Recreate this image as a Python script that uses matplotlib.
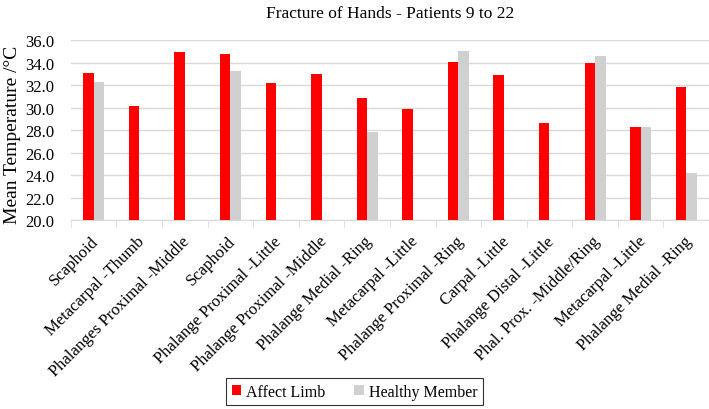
import numpy as np
import matplotlib
matplotlib.use("Agg")
import matplotlib.pyplot as plt
from matplotlib.transforms import ScaledTranslation

categories = ["Scaphoid", "Metacarpal -Thumb", "Phalanges Proximal -Middle",
              "Scaphoid", "Phalange Proximal -Little", "Phalange Proximal -Middle",
              "Phalange Medial -Ring", "Metacarpal -Little", "Phalange Proximal -Ring",
              "Carpal -Little", "Phalange Distal -Little", "Phal. Prox. -Middle/Ring",
              "Metacarpal -Little", "Phalange Medial -Ring"]
affect = [33.1, 30.2, 35.0, 34.8, 32.2, 33.0, 30.9, 29.9, 34.1, 32.9, 28.7, 34.0, 28.3, 31.9]
healthy = [32.3, np.nan, np.nan, 33.3, np.nan, np.nan, 27.9, np.nan, 35.1, np.nan, np.nan, 34.6, 28.3, 24.2]

plt.rcParams['font.family'] = ['Liberation Serif', 'DejaVu Serif']

fig = plt.figure(figsize=(7.09, 4.10), dpi=100)
ax = fig.add_axes([0.1, 0.46, 0.9, 0.439])

x = np.arange(len(categories))
w = 0.23
ax.bar(x - w / 2, affect, w, color="#FF0000", label="Affect Limb", zorder=3)
ax.bar(x + w / 2, healthy, w, color="#D0D0D0", label="Healthy Member", zorder=3)

ax.set_ylim(20, 36)
ax.set_yticks(np.arange(20, 36.1, 2))
ax.set_yticklabels([f"{v:.1f}" for v in np.arange(20, 36.1, 2)], fontsize=12)
ax.set_xlim(-0.5, len(categories) - 0.5)
ax.grid(axis="y", color="#D9D9D9", linewidth=1, zorder=0)

ax.set_xticks(x)
ax.set_xticklabels(categories, rotation=45, ha="right", rotation_mode="anchor", fontsize=12)
ax.tick_params(axis="x", length=0, pad=9)
# nudge the rotated labels a bit to the left, like the original
shift = ScaledTranslation(-3 / 100, 0, fig.dpi_scale_trans)
for lbl in ax.get_xticklabels():
    lbl.set_transform(lbl.get_transform() + shift)
ax.set_xticks(np.arange(-0.5, len(categories)), minor=True)
ax.tick_params(axis="x", which="minor", length=5, color="#D9D9D9")
ax.tick_params(axis="y", length=0, pad=12)

for s in ["top", "right", "left"]:
    ax.spines[s].set_visible(False)
ax.spines["bottom"].set_color("#D9D9D9")

ax.set_ylabel("Mean Temperature /°C", fontsize=14, va="center")
ax.yaxis.set_label_coords(-0.091, 0.48)
ax.set_title("Fracture of Hands - Patients 9 to 22", fontsize=12.5, pad=17)

leg = fig.legend(loc="lower center", bbox_to_anchor=(0.5, -0.01), ncol=2, fontsize=11.5,
                 frameon=True, fancybox=False, edgecolor="black", borderpad=0.35,
                 handlelength=0.6, handleheight=0.6, handletextpad=0.3, columnspacing=1.8)
leg.get_frame().set_linewidth(0.8)

fig.savefig("out.png", dpi=100)
